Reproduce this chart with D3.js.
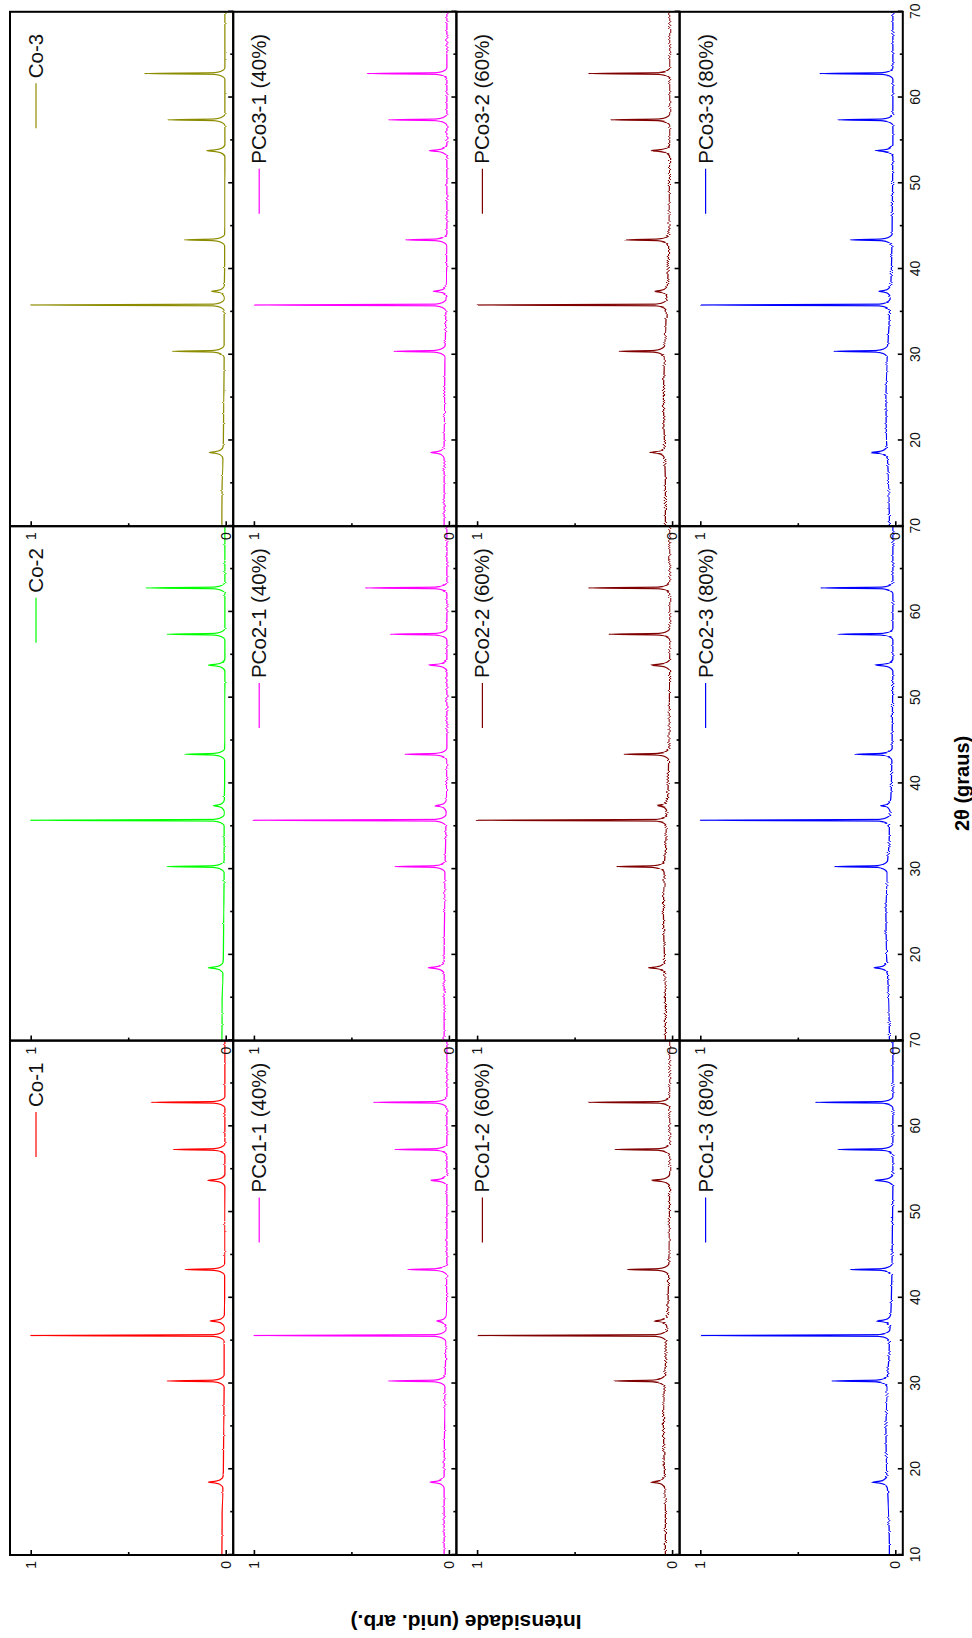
<!DOCTYPE html>
<html>
<head>
<meta charset="utf-8">
<script src="https://cdn.jsdelivr.net/npm/d3@7"></script>
<style>
  body { margin: 0; background: #fff; }
  svg { display: block; }
  text { font-family: "Liberation Sans", Arial, sans-serif; }
</style>
</head>
<body>
<svg id="chart" width="972" height="1638"></svg>
<script>
// XRD patterns of cobalt ferrite samples: 4 rows (composition) x 3 columns (series).
// The figure is laid out landscape and then turned 90 degrees counter-clockwise.

const xTicksMajor = [10, 20, 30, 40, 50, 60, 70];
const xTicksMinor = [15, 25, 35, 45, 55, 65];
const yTicksMajor = [0, 1];
const yTicksMinor = [0.5];

const legendNames = [
  ["Co-1", "Co-2", "Co-3"],
  ["PCo1-1 (40%)", "PCo2-1 (40%)", "PCo3-1 (40%)"],
  ["PCo1-2 (60%)", "PCo2-2 (60%)", "PCo3-2 (60%)"],
  ["PCo1-3 (80%)", "PCo2-3 (80%)", "PCo3-3 (80%)"]
];

const lineColors = [
  ["#ff0000", "#00ff00", "#8c8c00"],
  ["#ff00ff", "#ff00ff", "#ff00ff"],
  ["#800000", "#800000", "#800000"],
  ["#0000ff", "#0000ff", "#0000ff"]
];

// Reflection positions (2θ, degrees) for each series column
const peakPos1 = [18.5, 30.3, 35.6, 37.3, 43.3, 53.7, 57.3, 62.8];
const peakPos2 = [18.5, 30.3, 35.7, 37.4, 43.4, 53.8, 57.4, 62.8];
const peakPos3 = [18.6, 30.4, 35.8, 37.4, 43.4, 53.8, 57.4, 62.8];
const peakPositions = [peakPos1, peakPos2, peakPos3];

// Normalised peak intensities, same order as the positions
const hCo1   = [0.089, 0.300, 1.0, 0.080, 0.209, 0.092, 0.268, 0.383];
const hCo2   = [0.089, 0.300, 1.0, 0.063, 0.210, 0.089, 0.300, 0.410];
const hCo3   = [0.084, 0.274, 1.0, 0.072, 0.212, 0.097, 0.297, 0.417];
const hPCo11 = [0.097, 0.311, 1.0, 0.063, 0.212, 0.097, 0.277, 0.388];
const hPCo21 = [0.106, 0.277, 1.0, 0.070, 0.226, 0.100, 0.300, 0.430];
const hPCo31 = [0.092, 0.282, 1.0, 0.080, 0.222, 0.100, 0.311, 0.414];
const hPCo12 = [0.109, 0.294, 1.0, 0.089, 0.234, 0.103, 0.294, 0.430];
const hPCo22 = [0.120, 0.285, 1.0, 0.080, 0.246, 0.109, 0.325, 0.430];
const hPCo32 = [0.109, 0.272, 1.0, 0.089, 0.240, 0.106, 0.316, 0.430];
const hPCo13 = [0.120, 0.325, 1.0, 0.092, 0.231, 0.103, 0.294, 0.410];
const hPCo23 = [0.109, 0.311, 1.0, 0.075, 0.209, 0.100, 0.294, 0.383];
const hPCo33 = [0.126, 0.315, 1.0, 0.084, 0.231, 0.097, 0.294, 0.388];
const peakHeights = [
  [hCo1, hCo2, hCo3],
  [hPCo11, hPCo21, hPCo31],
  [hPCo12, hPCo22, hPCo32],
  [hPCo13, hPCo23, hPCo33]
];

// Background level sampled every 5 degrees from 10 to 70
const baseGrid = [10, 15, 20, 25, 30, 35, 40, 45, 50, 55, 60, 65, 70];
const bgCo   = [0.020, 0.018, 0.012, 0.010, 0.008, 0.008, 0.006, 0.005, 0.005, 0.004, 0.004, 0.004, 0.004];
const bgPCo1 = [0.025, 0.025, 0.024, 0.022, 0.020, 0.016, 0.012, 0.010, 0.010, 0.010, 0.010, 0.010, 0.010];
const bgPCo2 = [0.035, 0.035, 0.040, 0.045, 0.040, 0.030, 0.020, 0.016, 0.014, 0.012, 0.012, 0.012, 0.012];
const bgPCo3 = [0.030, 0.035, 0.045, 0.048, 0.042, 0.030, 0.020, 0.016, 0.014, 0.012, 0.012, 0.012, 0.012];
const backgrounds = [bgCo, bgPCo1, bgPCo2, bgPCo3];

// Counting-noise amplitude (px) of each composition row
const noiseAmp = [2, 3, 4, 4];

// Peak outline: offsets in 2θ and rise above background near the foot
const footOffsets = [-0.7, -0.25, -0.1, 0, 0.1, 0.25, 0.7];
const footRise    = [0, 0.022, 0.055, null, 0.055, 0.022, 0];

// ---- layout (landscape frame before rotation) ----
const FW = 1638, FH = 972;
const padLeft = 83, padTop = 10, pw = 514.4, ph = 223.2;

const svg = d3.select("#chart");
svg.append("rect").attr("width", 972).attr("height", 1638).attr("fill", "#fff");

// noisy trace effect: shift pixels along the intensity direction only
const defs = svg.append("defs");
noiseAmp.forEach((s, i) => {
  const f = defs.append("filter").attr("id", "noise" + i)
    .attr("x", "-5%").attr("y", "-5%").attr("width", "110%").attr("height", "110%");
  f.append("feTurbulence").attr("type", "fractalNoise")
    .attr("baseFrequency", "0.9 0.01").attr("numOctaves", 2).attr("seed", 7 + i)
    .attr("result", "n");
  f.append("feColorMatrix").attr("in", "n").attr("type", "matrix")
    .attr("values", "0 0 0 0 0.5  0 1 0 0 0  0 0 0 0 0  0 0 0 0 1")
    .attr("result", "m");
  f.append("feDisplacementMap").attr("in", "SourceGraphic").attr("in2", "m")
    .attr("scale", s).attr("xChannelSelector", "R").attr("yChannelSelector", "G");
});

const g = svg.append("g").attr("transform", `translate(0,${FW}) rotate(-90)`);

const traces = g.append("g");
const frames = g.append("g");
const axesG = g.append("g");

function styleAxis(sel) {
  sel.select(".domain").remove();
  sel.selectAll(".tick line").attr("stroke", "#000").attr("stroke-width", 1.6);
  sel.selectAll(".tick text")
    .attr("fill", "#111")
    .attr("font-size", 14)
    .attr("font-family", '"Liberation Sans", Arial, sans-serif');
}

for (let i = 0; i < 4; i++) {
  for (let j = 0; j < 3; j++) {
    const x0 = padLeft + j * pw, y0 = padTop + i * ph;
    const x = d3.scaleLinear().domain([10, 70]).range([x0, x0 + pw]);
    const y = d3.scaleLinear().domain([0, 1]).range([y0 + 215.7, y0 + 20.7]);

    const bg = d3.scaleLinear().domain(baseGrid).range(backgrounds[i]);
    const pos = peakPositions[j];
    const hts = peakHeights[i][j];

    // background points away from the reflections, plus each reflection's outline
    const pts = [];
    baseGrid.forEach((t, k) => {
      if (pos.every(p => Math.abs(p - t) > 0.75)) pts.push([t, backgrounds[i][k]]);
    });
    pos.forEach((p, k) => {
      footOffsets.forEach((o, m) => {
        const b = bg(p + o);
        pts.push([p + o, footRise[m] === null ? hts[k] : b + footRise[m] * Math.min(1, (hts[k] - b) / 0.1)]);
      });
    });
    pts.sort((a, b) => a[0] - b[0]);

    const line = d3.line()
      .x(d => x(d[0]))
      .y(d => y(d[1]))
      .curve(d3.curveMonotoneX);

    traces.append("path")
      .attr("d", line(pts))
      .attr("fill", "none")
      .attr("stroke", lineColors[i][j])
      .attr("stroke-width", 1.2)
      .attr("stroke-linejoin", "round")
      .attr("filter", `url(#noise${i})`);

    frames.append("rect")
      .attr("x", x0).attr("y", y0)
      .attr("width", pw).attr("height", ph)
      .attr("fill", "none")
      .attr("stroke", "#000")
      .attr("stroke-width", 2);

    // 2θ axis (bottom of each panel), ticks pointing inward
    const showLabels = i === 3;
    const xAxis = d3.axisBottom(x)
      .tickValues(xTicksMajor)
      .tickSizeInner(-5).tickSizeOuter(0).tickPadding(7)
      .tickFormat(d => (!showLabels || (j > 0 && d === 10)) ? "" : d3.format("d")(d));
    axesG.append("g").attr("transform", `translate(0,${y0 + ph})`).call(xAxis).call(styleAxis);
    const xAxisMinor = d3.axisBottom(x).tickValues(xTicksMinor)
      .tickSizeInner(-3).tickSizeOuter(0).tickFormat("");
    axesG.append("g").attr("transform", `translate(0,${y0 + ph})`).call(xAxisMinor).call(styleAxis);

    // intensity axis (left of each panel)
    const yAxis = d3.axisLeft(y).tickValues(yTicksMajor)
      .tickSizeInner(-5).tickSizeOuter(0).tickPadding(6)
      .tickFormat(d3.format("d"));
    axesG.append("g").attr("transform", `translate(${x0},0)`).call(yAxis).call(styleAxis);
    const yAxisMinor = d3.axisLeft(y).tickValues(yTicksMinor)
      .tickSizeInner(-3).tickSizeOuter(0).tickFormat("");
    axesG.append("g").attr("transform", `translate(${x0},0)`).call(yAxisMinor).call(styleAxis);

    // legend, right-aligned near the top-right corner
    const lg = axesG.append("g");
    const lt = lg.append("text")
      .attr("x", x0 + pw - 22).attr("y", y0 + 33)
      .attr("text-anchor", "end")
      .attr("font-size", 20.5)
      .attr("fill", "#111")
      .text(legendNames[i][j]);
    const tw = lt.node().getComputedTextLength();
    const lx1 = x0 + pw - 22 - tw - 5;
    lg.append("line")
      .attr("x1", lx1 - 45).attr("x2", lx1)
      .attr("y1", y0 + 26).attr("y2", y0 + 26)
      .attr("stroke", lineColors[i][j])
      .attr("stroke-width", 1.2);
  }
}

// axis titles
g.append("text")
  .attr("transform", "translate(23,466) rotate(-90)")
  .attr("text-anchor", "middle")
  .attr("font-size", 21)
  .attr("font-weight", "bold")
  .attr("fill", "#000")
  .text("Intensidade (unid. arb.)");

g.append("text")
  .attr("x", padLeft + 1.5 * pw).attr("y", 969)
  .attr("text-anchor", "middle")
  .attr("font-size", 20)
  .attr("font-weight", "bold")
  .attr("fill", "#000")
  .text("2θ (graus)");
</script>
</body>
</html>
